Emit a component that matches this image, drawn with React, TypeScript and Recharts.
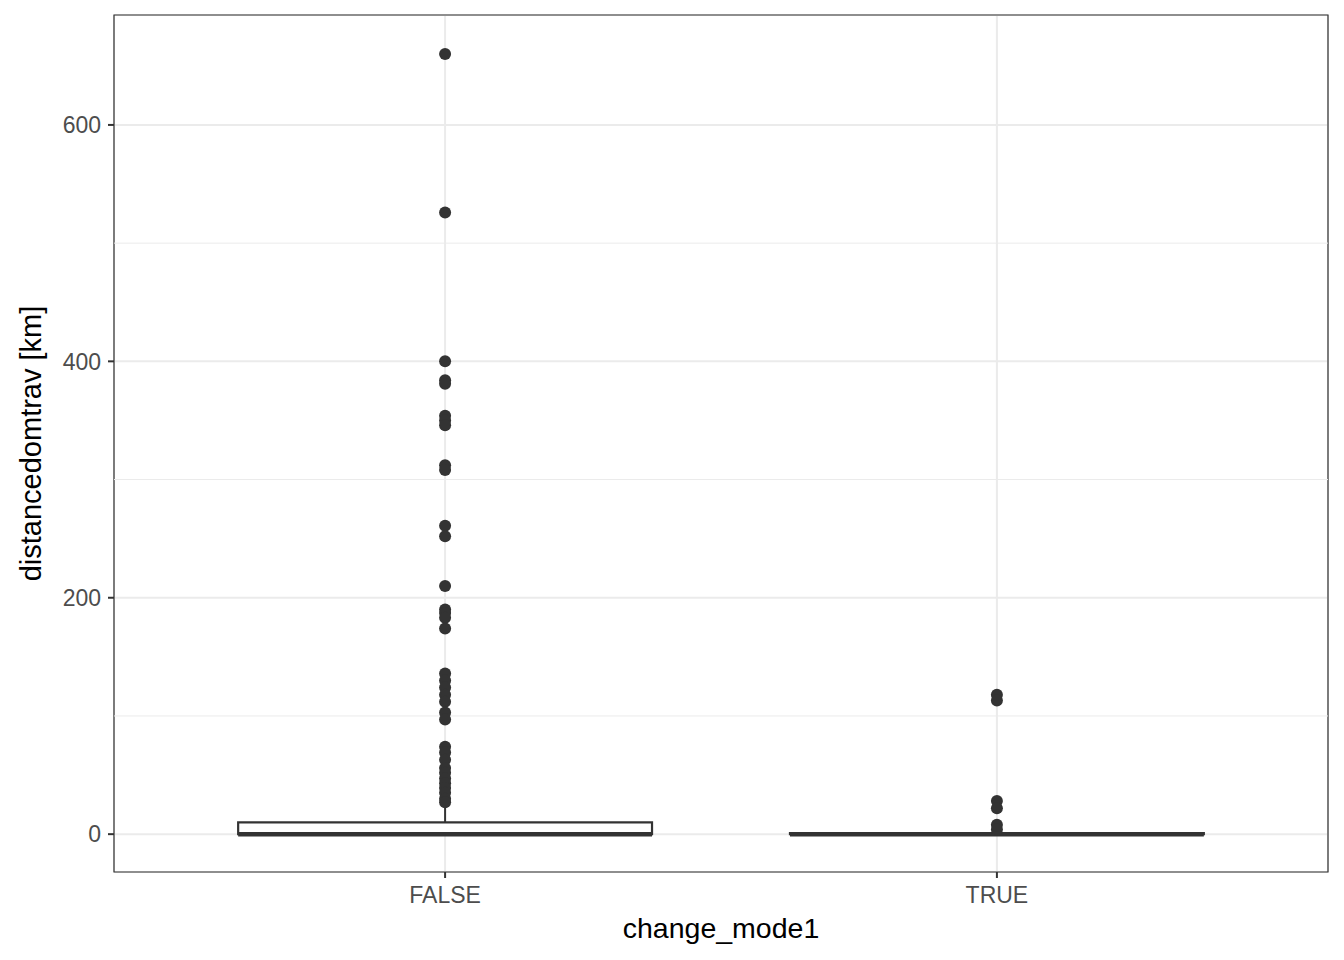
import { ComposedChart, Scatter, XAxis, YAxis, CartesianGrid, ReferenceArea, ReferenceLine } from "recharts"

const categories = ["FALSE", "TRUE"]
const boxQ1 = [0, 0]
const boxMedian = [0, 0]
const boxQ3 = [10, 1]
const whiskerLow = [0, 0]
const whiskerHigh = [24, 2]
const outliersFalse = [
  660, 526, 400, 384, 381, 354, 350, 346, 312, 308, 261, 252, 210, 190, 187, 183, 174, 136, 130, 124, 118, 112,
  103, 97, 74, 69, 63, 56, 52, 47, 43, 39, 35, 30, 27,
]
const outliersTrue = [118, 113, 28, 22, 8, 4]
const yTicks = [0, 200, 400, 600]
const yMinorTicks = [100, 300, 500]

const FONT = "'Liberation Sans', Arial, Helvetica, sans-serif"
const INK = "#333333"
const GRID = "#EBEBEB"

// ggplot style 5% expansion around the data
const allValues = [...outliersFalse, ...outliersTrue, ...boxQ1, ...whiskerHigh]
const dataMin = Math.min(...allValues)
const dataMax = Math.max(...allValues)
const pad = (dataMax - dataMin) * 0.05
const yDomain: [number, number] = [dataMin - pad * 0.97, dataMax + pad]
const xDomain: [number, number] = [0.4, 2.6]
const halfBox = 0.375

const outlierSeries = [outliersFalse, outliersTrue].map((vals, i) => vals.map((v) => ({ x: i + 1, y: v })))

const Dot = (props: any) => <circle cx={props.cx} cy={props.cy} r={6} fill={INK} />

const YTitle = ({ viewBox }: any) => {
  const cy = viewBox.y + viewBox.height / 2
  return (
    <text
      x={41}
      y={cy}
      transform={`rotate(-90, 41, ${cy})`}
      textAnchor="middle"
      fontFamily={FONT}
      fontSize={29}
      fill="#000"
    >
      distancedomtrav [km]
    </text>
  )
}

export default function App() {
  return (
    <div style={{ position: "absolute", left: 0, top: 0, background: "#fff" }}>
      <ComposedChart width={1344} height={960} margin={{ top: 15, right: 16, left: 0, bottom: 0 }}>
        <CartesianGrid stroke={GRID} strokeWidth={2} />
        {yMinorTicks.map((v) => (
          <ReferenceLine key={`minor-${v}`} y={v} stroke={GRID} strokeWidth={1} />
        ))}
        <XAxis
          type="number"
          dataKey="x"
          domain={xDomain}
          ticks={[1, 2]}
          allowDataOverflow
          tickFormatter={(v: number) => categories[v - 1] ?? ""}
          height={88}
          tickSize={6}
          tickMargin={9}
          axisLine={false}
          tickLine={{ stroke: INK, strokeWidth: 2 }}
          tick={{ fill: "#4D4D4D", fontSize: 23, fontFamily: FONT }}
          label={{
            value: "change_mode1",
            position: "insideBottom",
            offset: 22,
            fill: "#000",
            fontSize: 28.5,
            fontFamily: FONT,
          }}
        />
        <YAxis
          type="number"
          dataKey="y"
          domain={yDomain}
          ticks={yTicks}
          allowDataOverflow
          width={114}
          tickSize={6}
          tickMargin={7}
          axisLine={false}
          tickLine={{ stroke: INK, strokeWidth: 2 }}
          tick={{ fill: "#4D4D4D", fontSize: 23, fontFamily: FONT }}
          label={<YTitle />}
        />
        {categories.map((c, i) => (
          <ReferenceLine
            key={`whisk-hi-${c}`}
            segment={[
              { x: i + 1, y: boxQ3[i] },
              { x: i + 1, y: whiskerHigh[i] },
            ]}
            stroke={INK}
            strokeWidth={2}
          />
        ))}
        {categories.map((c, i) => (
          <ReferenceLine
            key={`whisk-lo-${c}`}
            segment={[
              { x: i + 1, y: boxQ1[i] },
              { x: i + 1, y: whiskerLow[i] },
            ]}
            stroke={INK}
            strokeWidth={2}
          />
        ))}
        {categories.map((c, i) => (
          <ReferenceArea
            key={`box-${c}`}
            x1={i + 1 - halfBox}
            x2={i + 1 + halfBox}
            y1={boxQ1[i]}
            y2={boxQ3[i]}
            fill="#fff"
            fillOpacity={1}
            stroke={INK}
            strokeWidth={2.2}
          />
        ))}
        {categories.map((c, i) => (
          <ReferenceLine
            key={`median-${c}`}
            segment={[
              { x: i + 1 - halfBox, y: boxMedian[i] },
              { x: i + 1 + halfBox, y: boxMedian[i] },
            ]}
            stroke={INK}
            strokeWidth={4.5}
          />
        ))}
        {outlierSeries.map((pts, i) => (
          <Scatter key={`out-${categories[i]}`} data={pts} shape={<Dot />} isAnimationActive={false} />
        ))}
        <ReferenceArea
          x1={xDomain[0]}
          x2={xDomain[1]}
          y1={yDomain[0]}
          y2={yDomain[1]}
          fill="none"
          stroke={INK}
          strokeWidth={1.2}
          ifOverflow="visible"
        />
      </ComposedChart>
    </div>
  )
}
